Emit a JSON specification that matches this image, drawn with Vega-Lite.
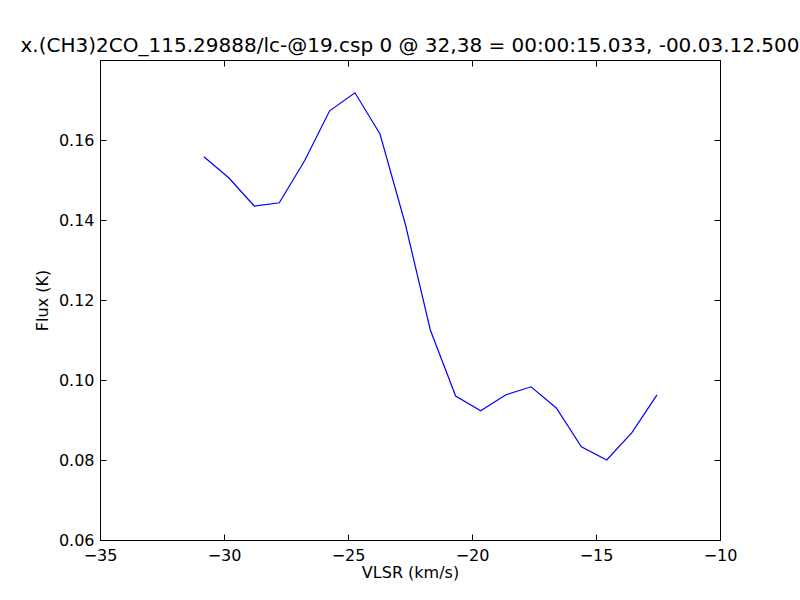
{
  "$schema": "https://vega.github.io/schema/vega-lite/v6.json",
  "width": 620,
  "height": 480,
  "autosize": {"type": "none"},
  "padding": {"left": 100, "top": 60, "right": 80, "bottom": 60},
  "background": "white",
  "config": {
    "font": "DejaVu Sans",
    "view": {"stroke": "black", "strokeWidth": 1},
    "axis": {"grid": false, "domainColor": "black", "tickColor": "black", "labelColor": "black", "titleColor": "black", "labelFont": "DejaVu Sans", "titleFont": "DejaVu Sans", "labelFontSize": 16, "titleFontSize": 16, "titleFontWeight": "normal", "tickSize": -6, "labelPadding": 12, "labelFlush": false, "labelOverlap": false}
  },
  "title": {"text": "x.(CH3)2CO_115.29888/lc-@19.csp 0 @ 32,38 = 00:00:15.033, -00.03.12.500", "font": "DejaVu Sans", "fontSize": 20, "fontWeight": "normal", "color": "black", "offset": 4, "anchor": "middle"},
  "data": {"values": [
    {"v": -30.81, "f": 0.1558},
    {"v": -29.80, "f": 0.1505},
    {"v": -28.78, "f": 0.1435},
    {"v": -27.77, "f": 0.1443},
    {"v": -26.75, "f": 0.1548},
    {"v": -25.74, "f": 0.1673},
    {"v": -24.72, "f": 0.1718},
    {"v": -23.71, "f": 0.1615},
    {"v": -22.69, "f": 0.1390},
    {"v": -21.68, "f": 0.1125},
    {"v": -20.66, "f": 0.0960},
    {"v": -19.65, "f": 0.0923},
    {"v": -18.63, "f": 0.0963},
    {"v": -17.62, "f": 0.0983},
    {"v": -16.60, "f": 0.0930},
    {"v": -15.59, "f": 0.0833},
    {"v": -14.57, "f": 0.0800},
    {"v": -13.56, "f": 0.0868},
    {"v": -12.54, "f": 0.0963}
  ]},
  "layer": [
    {
      "mark": {"type": "line", "color": "#0000ff", "strokeWidth": 1.2},
      "encoding": {
        "x": {"field": "v", "type": "quantitative", "scale": {"domain": [-35, -10], "nice": false, "zero": false}, "axis": {"title": "VLSR (km/s)", "values": [-35, -30, -25, -20, -15, -10], "format": "d", "titlePadding": 1, "labelPadding": 13}},
        "y": {"field": "f", "type": "quantitative", "scale": {"domain": [0.06, 0.18], "nice": false, "zero": false}, "axis": {"title": "Flux (K)", "values": [0.06, 0.08, 0.10, 0.12, 0.14, 0.16], "format": ".2f", "titlePadding": 8}}
      }
    },
    {
      "mark": {"type": "line", "opacity": 0},
      "encoding": {
        "x": {"field": "v", "type": "quantitative", "scale": {"domain": [-35, -10], "nice": false, "zero": false}, "axis": {"orient": "top", "title": null, "labels": false, "values": [-35, -30, -25, -20, -15, -10]}},
        "y": {"field": "f", "type": "quantitative", "scale": {"domain": [0.06, 0.18], "nice": false, "zero": false}, "axis": {"orient": "right", "title": null, "labels": false, "values": [0.06, 0.08, 0.10, 0.12, 0.14, 0.16, 0.18]}}
      }
    }
  ],
  "resolve": {"axis": {"x": "independent", "y": "independent"}}
}
